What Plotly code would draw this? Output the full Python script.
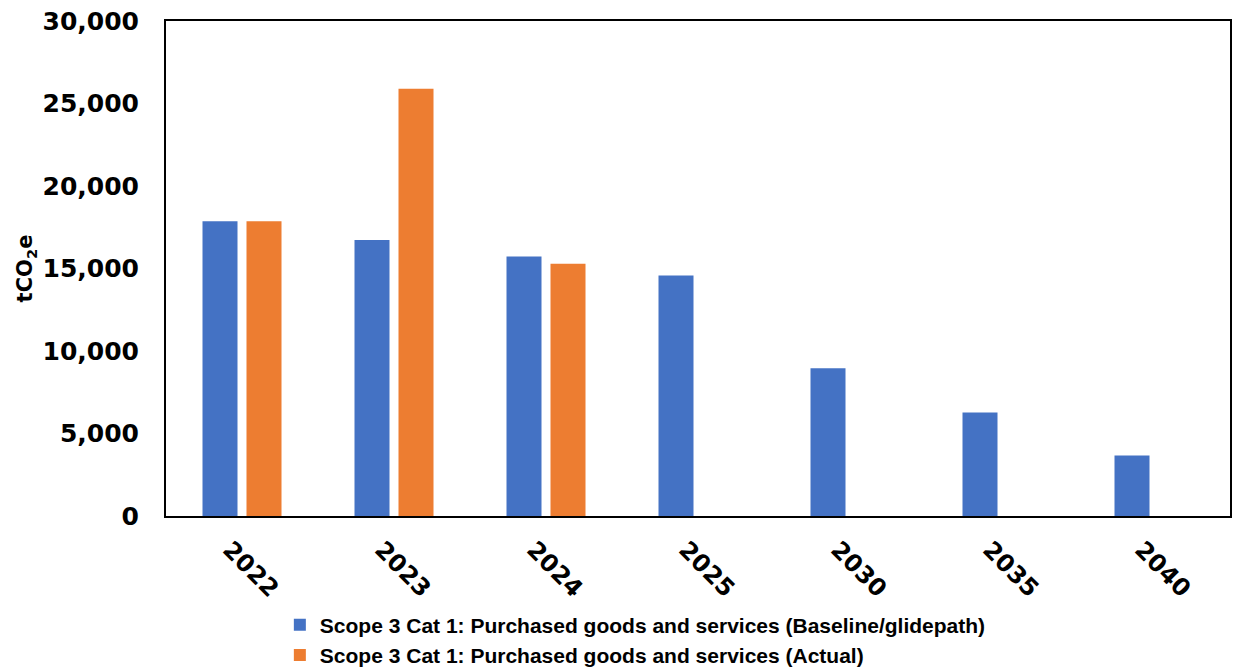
import plotly.graph_objects as go

years = ["2022", "2023", "2024", "2025", "2030", "2035", "2040"]
baseline = [17870, 16730, 15730, 14570, 8960, 6280, 3660]
actual = [17870, 25900, 15290, None, None, None, None]

name_base = "Scope 3 Cat 1: Purchased goods and services (Baseline/glidepath)"
name_act = "Scope 3 Cat 1: Purchased goods and services (Actual)"

fig = go.Figure()
fig.add_trace(go.Bar(x=years, y=baseline, name=name_base, marker_color="#4472C4",
                     marker_line_width=0))
fig.add_trace(go.Bar(x=years, y=actual, name=name_act, marker_color="#ED7D31",
                     marker_line_width=0))

fig.update_layout(
    width=1245, height=671,
    margin=dict(l=166, r=15, t=21, b=155),
    plot_bgcolor="white", paper_bgcolor="white",
    barmode="group", bargap=0.421, bargroupgap=0.2045,
    font=dict(family="DejaVu Sans", color="#000000"),
    legend=dict(orientation="v", x=0.107, y=0.099, xanchor="left", yanchor="top",
                yref="container",
                font=dict(family="Liberation Sans", size=21, weight="bold"),
                itemwidth=30, tracegroupgap=8),
    showlegend=True,
)
fig.update_xaxes(
    type="category", tickangle=45, automargin=False,
    tickfont=dict(size=24, weight="bold", family="DejaVu Sans"),
    showline=True, linecolor="black", linewidth=2, mirror=True,
    ticks="outside", ticklen=8, tickcolor="rgba(0,0,0,0)",
    ticklabelshift=-12,
    showgrid=False,
)
fig.update_yaxes(
    range=[0, 30000], dtick=5000, tickformat=",d", automargin=False,
    tickfont=dict(size=25, weight="bold", family="DejaVu Sans"),
    showline=True, linecolor="black", linewidth=2, mirror=True,
    ticks="outside", ticklen=20, tickcolor="rgba(0,0,0,0)",
    showgrid=False, zeroline=False,
    title=dict(text="tCO<sub>2</sub>e", font=dict(size=21, weight="bold", family="DejaVu Sans"),
               standoff=4),
)

fig.write_html("out.html")
